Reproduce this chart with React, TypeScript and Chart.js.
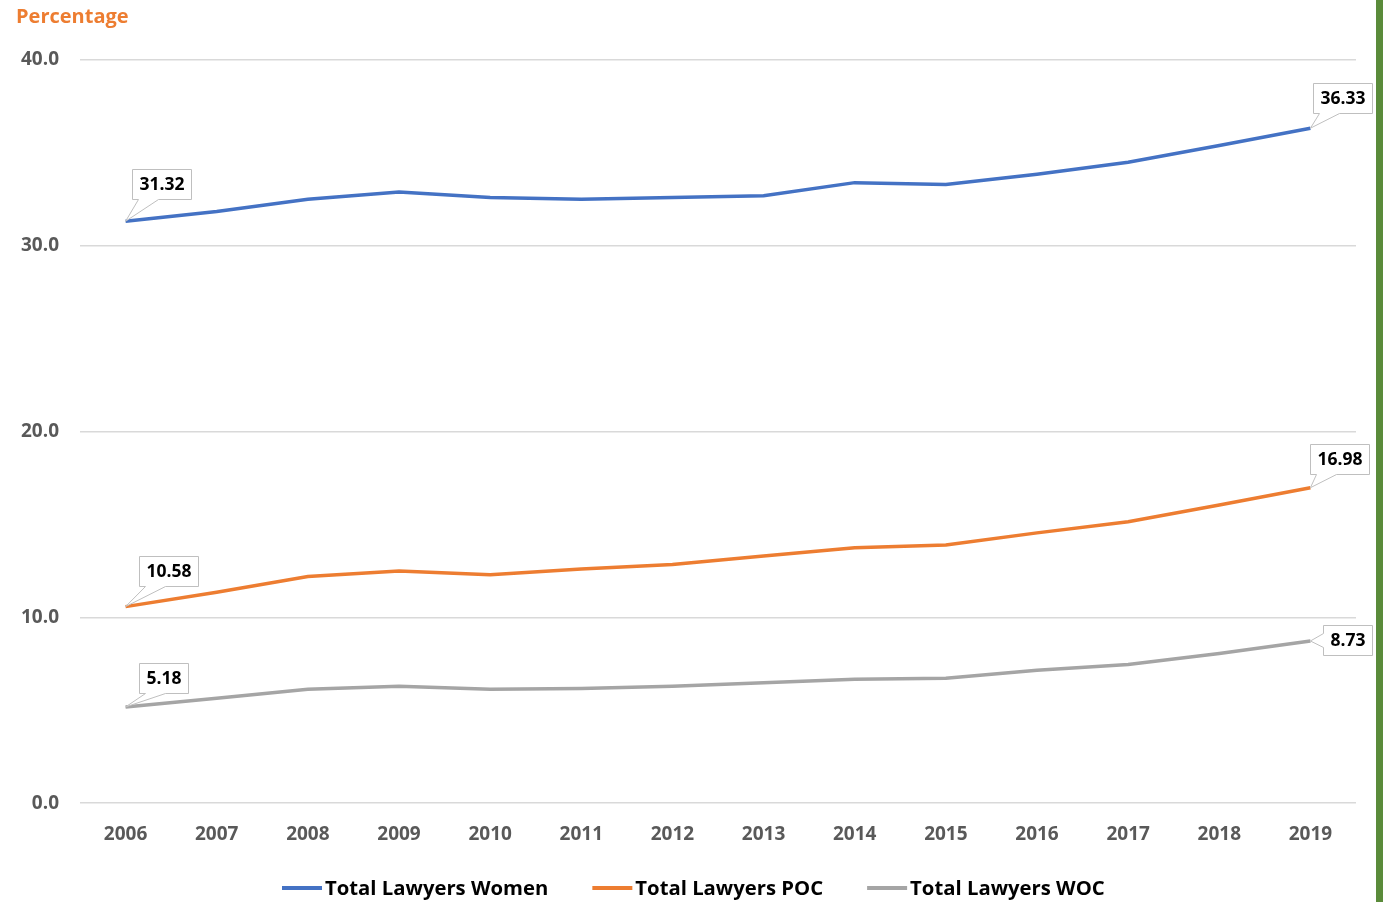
import React, { useEffect, useRef } from "react";
import { Chart, registerables } from "chart.js";

Chart.register(...registerables);

const years = ["2006", "2007", "2008", "2009", "2010", "2011", "2012", "2013", "2014", "2015", "2016", "2017", "2018", "2019"];
const womenValues = [31.32, 31.85, 32.5, 32.9, 32.6, 32.5, 32.6, 32.7, 33.4, 33.3, 33.85, 34.5, 35.4, 36.33];
const pocValues = [10.58, 11.35, 12.2, 12.5, 12.3, 12.6, 12.85, 13.3, 13.75, 13.9, 14.55, 15.15, 16.05, 16.98];
const wocValues = [5.18, 5.65, 6.13, 6.3, 6.13, 6.18, 6.3, 6.48, 6.67, 6.72, 7.15, 7.47, 8.06, 8.73];
const seriesNames = ["Total Lawyers Women", "Total Lawyers POC", "Total Lawyers WOC"];
const seriesColors = ["#4472C4", "#ED7D31", "#A5A5A5"];
const yTickValues = [0, 10, 20, 30, 40];
const axisTitle = "Percentage";

const FONT = "'Open Sans', 'DejaVu Sans', sans-serif";

type Callout = { ds: number; idx: number; dx: number; dy: number; side: "bottom" | "left" };

const callouts: Callout[] = [
  { ds: 0, idx: 0, dx: 6, dy: -52, side: "bottom" },
  { ds: 0, idx: 13, dx: 3, dy: -45, side: "bottom" },
  { ds: 1, idx: 0, dx: 13, dy: -51, side: "bottom" },
  { ds: 1, idx: 13, dx: 0, dy: -44, side: "bottom" },
  { ds: 2, idx: 0, dx: 13, dy: -44, side: "bottom" },
  { ds: 2, idx: 13, dx: 13, dy: -16, side: "left" },
];

const calloutPlugin = {
  id: "callouts",
  afterDatasetsDraw(chart: any) {
    const ctx = chart.ctx as CanvasRenderingContext2D;
    ctx.save();
    ctx.font = `bold 17.5px ${FONT}`;
    for (const c of callouts) {
      const meta = chart.getDatasetMeta(c.ds);
      const pt = meta.data[c.idx];
      if (!pt) continue;
      const value = chart.data.datasets[c.ds].data[c.idx] as number;
      const text = value.toFixed(2);
      const tw = ctx.measureText(text).width;
      const w = Math.round(tw + 14);
      const h = 30;
      const px = pt.x;
      const py = pt.y;
      const left = Math.round(px + c.dx) + 0.5;
      const top = Math.round(py + c.dy) + 0.5;
      const right = left + w;
      const bottom = top + h;
      ctx.beginPath();
      if (c.side === "bottom") {
        ctx.moveTo(left, top);
        ctx.lineTo(right, top);
        ctx.lineTo(right, bottom);
        ctx.lineTo(left + 26, bottom);
        ctx.lineTo(px, py);
        ctx.lineTo(left + 6, bottom);
        ctx.lineTo(left, bottom);
        ctx.closePath();
      } else {
        ctx.moveTo(left, top);
        ctx.lineTo(right, top);
        ctx.lineTo(right, bottom);
        ctx.lineTo(left, bottom);
        ctx.lineTo(left, top + 22);
        ctx.lineTo(px, py);
        ctx.lineTo(left, top + 8);
        ctx.closePath();
      }
      ctx.fillStyle = "#FFFFFF";
      ctx.fill();
      ctx.strokeStyle = "#BFBFBF";
      ctx.lineWidth = 1;
      ctx.stroke();
      ctx.fillStyle = "#000000";
      ctx.textAlign = "center";
      ctx.textBaseline = "middle";
      ctx.fillText(text, left + w / 2, top + h / 2 + 1);
    }
    ctx.restore();
  },
};

const titlePlugin = {
  id: "axisTitleTop",
  afterDraw(chart: any) {
    const ctx = chart.ctx as CanvasRenderingContext2D;
    ctx.save();
    ctx.font = `bold 20px ${FONT}`;
    ctx.fillStyle = "#ED7D31";
    ctx.textAlign = "left";
    ctx.textBaseline = "middle";
    ctx.fillText(axisTitle, 16, 17);
    ctx.restore();
  },
};

const legendPlugin = {
  id: "bottomLegend",
  afterDraw(chart: any) {
    const ctx = chart.ctx as CanvasRenderingContext2D;
    ctx.save();
    ctx.font = `bold 20.3px ${FONT}`;
    const sw = 40;
    const gap = 3;
    const spacing = 44;
    const items = chart.data.datasets.map((d: any) => ({
      text: d.label as string,
      color: d.borderColor as string,
      w: sw + gap + ctx.measureText(d.label).width,
    }));
    const total = items.reduce((a: number, it: any) => a + it.w, 0) + spacing * (items.length - 1);
    let x = Math.round(693 - total / 2);
    const y = 888;
    for (const it of items) {
      ctx.fillStyle = it.color;
      ctx.fillRect(x, y - 2, sw, 4);
      ctx.fillStyle = "#000000";
      ctx.textAlign = "left";
      ctx.textBaseline = "middle";
      ctx.fillText(it.text, x + sw + gap, y + 1);
      x += it.w + spacing;
    }
    ctx.restore();
  },
};

export default function App() {
  const canvasRef = useRef<HTMLCanvasElement | null>(null);

  useEffect(() => {
    document.body.style.margin = "0";
    const canvas = canvasRef.current;
    if (!canvas) return;
    const seriesData = [womenValues, pocValues, wocValues];
    const chart = new Chart(canvas, {
      type: "line",
      data: {
        labels: years,
        datasets: seriesData.map((d, i) => ({
          label: seriesNames[i],
          data: d,
          borderColor: seriesColors[i],
          backgroundColor: seriesColors[i],
          borderWidth: 3.5,
          pointRadius: 0,
          tension: 0,
          fill: false,
        })),
      },
      options: {
        responsive: false,
        animation: false,
        layout: { padding: { top: 60, right: 27, left: 0, bottom: 36 } },
        plugins: {
          legend: { display: false },
          tooltip: { enabled: false },
        },
        scales: {
          x: {
            offset: true,
            grid: { display: false, drawTicks: false },
            border: { display: false },
            ticks: {
              font: { family: FONT, size: 19, weight: "bold" },
              color: "#595959",
              padding: 20,
              maxRotation: 0,
            },
          },
          y: {
            min: 0,
            max: 40,
            afterFit: (s: any) => {
              s.width = 80;
            },
            afterBuildTicks: (s: any) => {
              s.ticks = yTickValues.map((v) => ({ value: v }));
            },
            grid: { color: "#D9D9D9", lineWidth: 1.5, drawTicks: false },
            border: { display: false },
            ticks: {
              font: { family: FONT, size: 19, weight: "bold" },
              color: "#595959",
              padding: 21,
              callback: (v: any) => Number(v).toFixed(1),
            },
          },
        },
      },
      plugins: [calloutPlugin, titlePlugin, legendPlugin],
    });
    return () => chart.destroy();
  }, []);

  return (
    <div style={{ position: "relative", width: 1383, height: 902, background: "#FFFFFF", overflow: "hidden" }}>
      <canvas ref={canvasRef} width={1383} height={902} style={{ display: "block", width: 1383, height: 902 }} />
      <div style={{ position: "absolute", right: 0, top: 0, width: 7, height: 902, background: "#5A8B3A" }} />
    </div>
  );
}
